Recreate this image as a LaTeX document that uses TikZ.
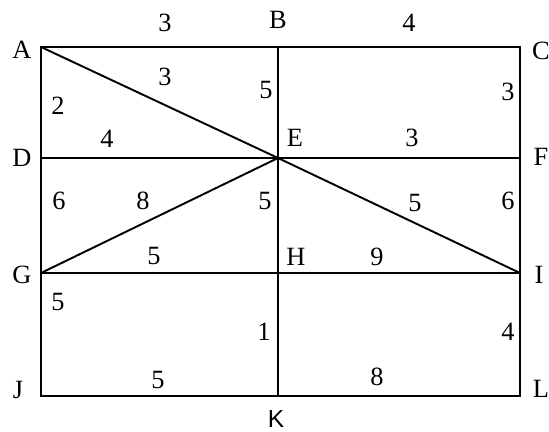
\documentclass[tikz,border=0pt]{standalone}
\usepackage{fontspec}
\setmainfont{Liberation Serif}
\newfontfamily\labelsans{Liberation Sans}

\begin{document}
\begin{tikzpicture}[x=0.02cm, y=-0.02cm,
  edge/.style={draw=black, line width=1.1pt},
  vlabel/.style={inner sep=0pt, font=\fontsize{15}{18}\selectfont},
  weight/.style={inner sep=0pt, font=\fontsize{15}{18}\selectfont}]
  \useasboundingbox (0,0) rectangle (549,432);

  % Grid points
  \coordinate (A) at (41,47);
  \coordinate (B) at (278,47);
  \coordinate (C) at (520,47);
  \coordinate (D) at (41,158);
  \coordinate (E) at (278,158);
  \coordinate (F) at (520,158);
  \coordinate (G) at (41,273);
  \coordinate (H) at (278,273);
  \coordinate (I) at (520,273);
  \coordinate (J) at (41,396);
  \coordinate (K) at (278,396);
  \coordinate (L) at (520,396);

  % Edges
  \draw[edge] (A) rectangle (L);
  \draw[edge] (D) -- (F);
  \draw[edge] (G) -- (I);
  \draw[edge] (B) -- (K);
  \draw[edge] (A) -- (E);
  \draw[edge] (E) -- (G);
  \draw[edge] (E) -- (I);

  % Point labels
  \node[vlabel] (lA) at (22,50) {A};
  \node[vlabel] (lB) at (278,20) {B};
  \node[vlabel] (lC) at (541,51) {C};
  \node[vlabel] (lD) at (22,158) {D};
  \node[vlabel] (lE) at (295,138) {E};
  \node[vlabel] (lF) at (541,157) {F};
  \node[vlabel] (lG) at (22,275) {G};
  \node[vlabel] (lH) at (296,257) {H};
  \node[vlabel] (lI) at (539,275) {I};
  \node[vlabel] (lJ) at (18,390) {J};
  \node[vlabel, font=\labelsans\fontsize{14}{17}\selectfont] (lK) at (276,419) {K};
  \node[vlabel] (lL) at (541,389) {L};

  % Weights
  \node[weight] (wAB) at (165,23) {3};
  \node[weight] (wBC) at (409,23) {4};
  \node[weight] (wAE) at (165,77) {3};
  \node[weight] (wBE) at (266,90) {5};
  \node[weight] (wAD) at (58,106) {2};
  \node[weight] (wDE) at (107,139) {4};
  \node[weight] (wCF) at (508,92) {3};
  \node[weight] (wEF) at (412,138) {3};
  \node[weight] (wDG) at (59,201) {6};
  \node[weight] (wEG) at (143,201) {8};
  \node[weight] (wEH) at (265,201) {5};
  \node[weight] (wEI) at (415,203) {5};
  \node[weight] (wFI) at (508,201) {6};
  \node[weight] (wGH) at (154,256) {5};
  \node[weight] (wHI) at (377,257) {9};
  \node[weight] (wGJ) at (58,302) {5};
  \node[weight] (wHK) at (264,332) {1};
  \node[weight] (wIL) at (508,332) {4};
  \node[weight] (wJK) at (158,380) {5};
  \node[weight] (wKL) at (377,377) {8};
\end{tikzpicture}
\end{document}
